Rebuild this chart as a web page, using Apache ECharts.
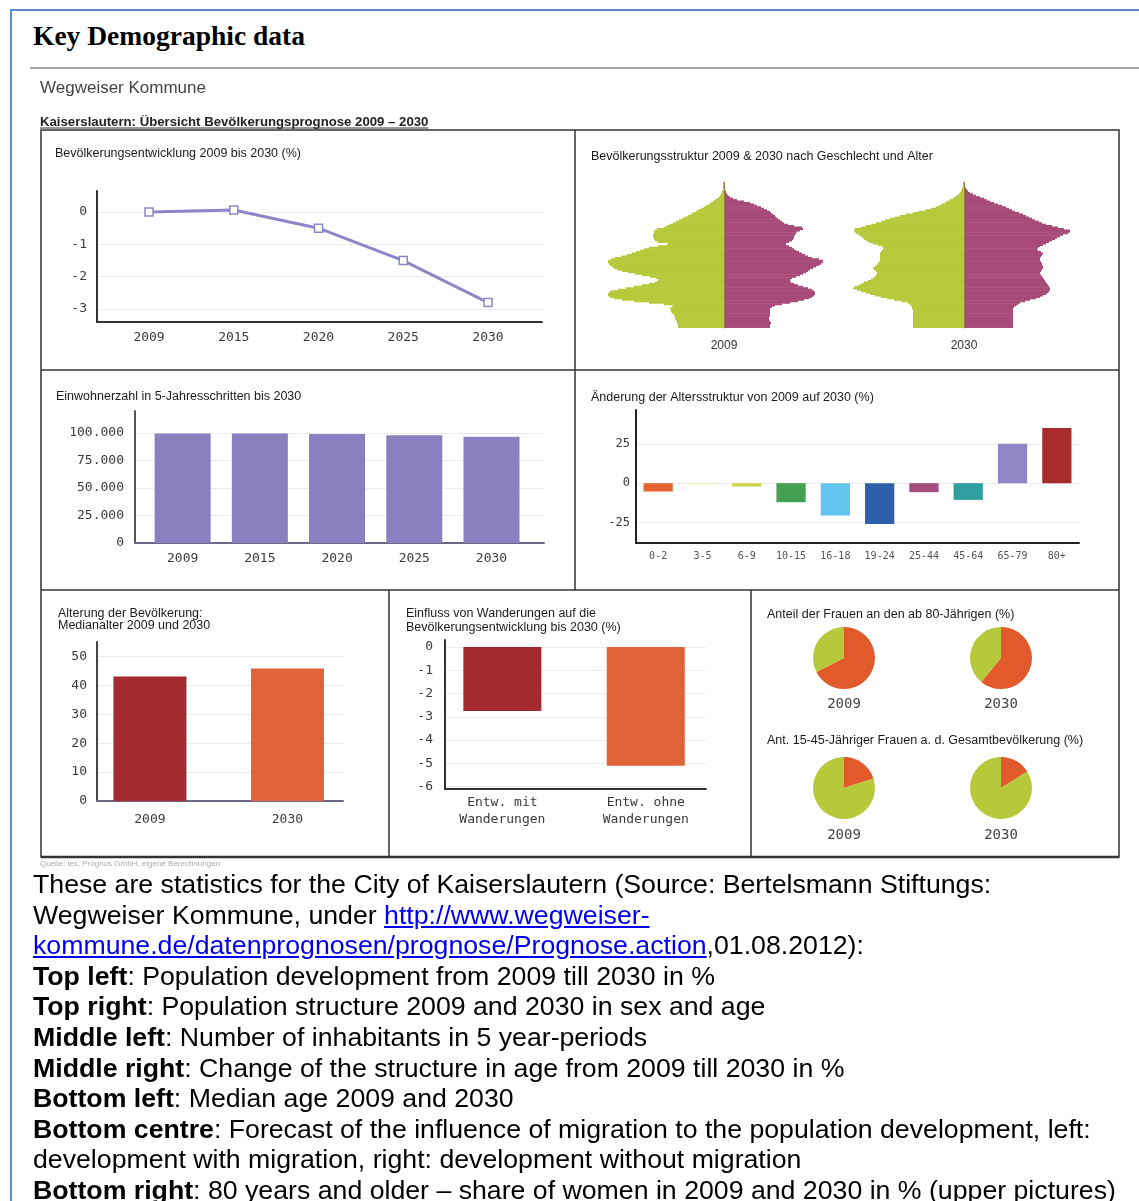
<!DOCTYPE html>
<html>
<head>
<meta charset="utf-8">
<script src="https://cdn.jsdelivr.net/npm/echarts@6/dist/echarts.min.js"></script>
<style>
  html, body { margin: 0; padding: 0; background: #fff; }
  body { width: 1139px; height: 1201px; position: relative; overflow: hidden; }
  #frame { position: absolute; left: 10px; top: 9px; width: 1200px; height: 1300px;
    border-top: 2px solid #5b8bd0; border-left: 2px solid #5b8bd0; }
  #head { position: absolute; left: 33px; top: 20px; font: bold 27.5px 'Liberation Serif', serif; color: #000; }
  #rule { position: absolute; left: 30px; top: 67px; width: 1109px; border-top: 2px solid #a6a6a6; }
  #chart { position: absolute; left: 0; top: 0; width: 1139px; height: 872px; }
  #text { position: absolute; left: 33px; top: 869px; font: 26.7px 'Liberation Sans', Arial, sans-serif;
    line-height: 30.6px; color: #000; white-space: nowrap; }
  #text a { color: #0000ee; text-decoration: underline; }
</style>
</head>
<body>
<div id="frame"></div>
<div id="head">Key Demographic data</div>
<div id="rule"></div>
<div id="chart"></div>
<div id="text">
These are statistics for the City of Kaiserslautern (Source: Bertelsmann Stiftungs:<br>
Wegweiser Kommune, under <a>http://www.wegweiser-<br>kommune.de/datenprognosen/prognose/Prognose.action</a>,01.08.2012):<br>
<b>Top left</b>: Population development from 2009 till 2030 in %<br>
<b>Top right</b>: Population structure 2009 and 2030 in sex and age<br>
<b>Middle left</b>: Number of inhabitants in 5 year-periods<br>
<b>Middle right</b>: Change of the structure in age from 2009 till 2030 in %<br>
<b>Bottom left</b>: Median age 2009 and 2030<br>
<b>Bottom centre</b>: Forecast of the influence of migration to the population development, left:<br>
development with migration, right: development without migration<br>
<b>Bottom right</b>: 80 years and older – share of women in 2009 and 2030 in % (upper pictures)
</div>
<script>
// Bevölkerungsentwicklung 2009 bis 2030 (%)
const jahre = ['2009', '2015', '2020', '2025', '2030']
const entwicklung = [0, 0.06, -0.5, -1.5, -2.8]
const entwicklungTicks = [0, -1, -2, -3]

// Einwohnerzahl in 5-Jahresschritten
const einwohner = [99500, 99550, 99000, 98000, 96700]
const einwohnerTicks = [0, 25000, 50000, 75000, 100000]

// Änderung der Altersstruktur (%)
const altersgruppen = ['0-2', '3-5', '6-9', '10-15', '16-18', '19-24', '25-44', '45-64', '65-79', '80+']
const aenderung = [-5.3, -0.5, -2.1, -12.1, -20.6, -25.9, -5.7, -10.6, 25, 35]
const aenderungTicks = [25, 0, -25]

// Medianalter
const medianJahre = ['2009', '2030']
const medianalter = [43.1, 45.8]
const medianTicks = [0, 10, 20, 30, 40, 50]

// Einfluss von Wanderungen (%)
const wanderKat = ['Entw. mit\nWanderungen', 'Entw. ohne\nWanderungen']
const wanderung = [-2.75, -5.1]
const wanderTicks = [0, -1, -2, -3, -4, -5, -6]

// Frauenanteile (%)
const pieJahre = ['2009', '2030']
const frauen80 = [67.5, 61]
const frauen1545 = [20, 16]

// Bevölkerungspyramiden, Alter 0..100
const alter = Array.from({ length: 101 }, (_, i) => String(i))
const maenner2009 = [
  46, 46, 46, 47, 47, 48, 49, 49, 50, 50,
  52, 53, 53, 54, 52, 51, 60, 75, 90, 102,
  110, 114, 116, 116, 115, 113, 106, 98, 90, 82,
  75, 69, 66, 65, 68, 74, 82, 89, 96, 102,
  107, 110, 112, 114, 115, 116, 116, 113, 109, 103,
  97, 92, 88, 84, 80, 75, 66, 57, 56, 66,
  69, 70, 70, 71, 71, 70, 70, 69, 67, 60,
  57, 54, 51, 48, 45, 42, 39, 36, 33, 31,
  28, 26, 23, 20, 18, 15, 13, 11, 9, 7,
  5, 4, 3, 2, 2, 1, 1, 1, 1, 1, 1,
]
const frauen2009 = [
  46, 46, 46, 47, 46, 45, 45, 45, 46, 46,
  46, 46, 46, 46, 48, 51, 58, 66, 74, 80,
  85, 88, 90, 91, 91, 90, 88, 84, 79, 74,
  70, 67, 66, 66, 68, 72, 76, 79, 82, 84,
  86, 89, 92, 95, 97, 99, 99, 95, 88, 84,
  81, 78, 75, 72, 70, 68, 65, 62, 62, 65,
  68, 69, 70, 70, 71, 72, 73, 76, 79, 78,
  70, 64, 60, 58, 56, 54, 52, 51, 49, 47,
  46, 43, 40, 37, 33, 30, 26, 20, 13, 9,
  6, 4, 3, 2, 2, 1, 1, 1, 1, 1, 1,
]
const maenner2030 = [
  51, 51, 51, 51, 51, 51, 51, 51, 51, 51,
  51, 51, 51, 52, 52, 53, 54, 56, 63, 70,
  77, 83, 89, 94, 98, 103, 107, 111, 109, 105,
  102, 100, 96, 93, 91, 89, 88, 87, 87, 88,
  90, 91, 89, 87, 86, 85, 84, 84, 84, 84,
  84, 84, 83, 82, 81, 81, 82, 86, 91, 95,
  98, 100, 101, 103, 105, 108, 109, 110, 109, 103,
  98, 93, 88, 83, 79, 74, 69, 64, 58, 51,
  45, 39, 33, 28, 25, 22, 19, 17, 14, 11,
  9, 7, 5, 4, 3, 2, 2, 1, 1, 1, 1,
]
const frauen2030 = [
  49, 49, 49, 49, 49, 49, 49, 49, 49, 49,
  49, 49, 49, 49, 50, 52, 54, 56, 61, 66,
  72, 76, 79, 82, 84, 85, 86, 86, 85, 84,
  83, 82, 81, 80, 79, 78, 77, 76, 76, 77,
  78, 79, 79, 78, 78, 77, 76, 76, 76, 77,
  78, 79, 77, 74, 73, 74, 76, 79, 82, 85,
  88, 91, 93, 96, 99, 104, 106, 106, 100, 94,
  88, 82, 78, 75, 71, 68, 65, 62, 59, 55,
  51, 48, 45, 42, 38, 34, 30, 26, 23, 20,
  16, 12, 9, 6, 4, 3, 2, 1, 1, 1, 1,
]

const MONO = 'DejaVu Sans Mono'
const SANS = 'Liberation Sans'
const GREEN = '#b6c93a'
const MAGENTA = '#a84a78'
const ORANGE = '#e2592b'
const DARKRED = '#a32b2e'
const gruppenFarben = ['#e4632d', '#f1e88e', '#c8d444', '#46a052', '#63c5ef',
  '#2d5faa', '#a44d7c', '#2e9ea0', '#9088c6', '#a92c2c']
const medianFarben = [DARKRED, '#e0643a']

const fmtDe = (v) => String(v).replace(/\B(?=(\d{3})+(?!\d))/g, '.')

// category-like value axis, so the bands can sit where the original put them
function posAxis(gi, cats, padL, padR, fs, margin, lineColor) {
  return {
    type: 'value', gridIndex: gi, min: -padL, max: cats.length - 1 + padR,
    axisLine: { show: true, onZero: false, lineStyle: { color: lineColor, width: 2 } },
    axisTick: { show: false },
    splitLine: { show: false },
    axisLabel: {
      customValues: cats.map((c, i) => i),
      formatter: (v) => cats[Math.round(v)],
      fontFamily: MONO, fontSize: fs, color: '#3a3a3a', margin: margin, lineHeight: 17,
    },
  }
}

function valAxis(gi, min, max, ticks, fs, margin, fmt, lineColor) {
  return {
    type: 'value', gridIndex: gi, min: min, max: max,
    axisLine: { show: true, onZero: false, lineStyle: { color: lineColor, width: 2 } },
    axisTick: { show: false, customValues: ticks },
    splitLine: { show: true, lineStyle: { color: '#ececec', width: 1 } },
    axisLabel: {
      customValues: ticks, formatter: fmt,
      fontFamily: MONO, fontSize: fs, color: '#3a3a3a', margin: margin,
    },
  }
}

function pyrX(gi, name) {
  return {
    type: 'value', gridIndex: gi, min: -125, max: 125,
    axisLine: { show: false }, axisTick: { show: false },
    axisLabel: { show: false }, splitLine: { show: false },
    name: name, nameLocation: 'middle', nameGap: 12,
    nameTextStyle: { fontFamily: SANS, fontSize: 12, color: '#333' },
  }
}

function pyrY(gi) {
  return {
    type: 'category', gridIndex: gi, data: alter, z: 5,
    axisLine: { show: true, onZero: true, lineStyle: { color: '#9a7a45', width: 1 } },
    axisTick: { show: false }, axisLabel: { show: false }, splitLine: { show: false },
  }
}

function pyrBars(gi, m, f) {
  return [
    { type: 'bar', xAxisIndex: gi, yAxisIndex: gi, data: m.map((v) => -v),
      barWidth: 2, barGap: '-100%', itemStyle: { color: GREEN } },
    { type: 'bar', xAxisIndex: gi, yAxisIndex: gi, data: f,
      barWidth: 2, barGap: '-100%', itemStyle: { color: MAGENTA } },
  ]
}

function pie(cx, cy, share) {
  return {
    type: 'pie', center: [cx, cy], radius: 31, startAngle: 90, clockwise: true,
    label: { show: false }, labelLine: { show: false }, silent: true,
    itemStyle: { borderWidth: 0 },
    data: [
      { value: share, itemStyle: { color: ORANGE } },
      { value: 100 - share, itemStyle: { color: GREEN } },
    ],
  }
}

function title(text, left, top, lh) {
  return {
    text: text, left: left, top: top, padding: 0,
    textStyle: { fontFamily: SANS, fontSize: 12.5, fontWeight: 'normal', color: '#1a1a1a', lineHeight: lh || 14 },
  }
}

function line(x1, y1, x2, y2, w) {
  return { type: 'line', shape: { x1, y1, x2, y2 }, style: { stroke: '#333', lineWidth: w || 1.5 }, silent: true }
}

function label(text, x, y) {
  return { type: 'text', x: x, y: y, silent: true,
    style: { text: text, font: '14px "DejaVu Sans Mono"', fill: '#444', align: 'center', verticalAlign: 'middle' } }
}

const subTitle = 'Kaiserslautern: Übersicht Bevölkerungsprognose 2009 – 2030'
const subFont = 'bold 13.2px "Liberation Sans"'
const ctx = document.createElement('canvas').getContext('2d')
ctx.font = subFont
const subW = ctx.measureText(subTitle).width

const chart = echarts.init(document.getElementById('chart'))
chart.setOption({
  animation: false,
  title: [
    title('Bevölkerungsentwicklung 2009 bis 2030 (%)', 55, 147),
    title('Bevölkerungsstruktur 2009 & 2030 nach Geschlecht und Alter', 591, 150),
    title('Einwohnerzahl in 5-Jahresschritten bis 2030', 56, 390),
    title('Änderung der Altersstruktur von 2009 auf 2030 (%)', 591, 391),
    title('Alterung der Bevölkerung:\nMedianalter 2009 und 2030', 58, 608, 12),
    title('Einfluss von Wanderungen auf die\nBevölkerungsentwicklung bis 2030 (%)', 406, 607, 13.5),
    title('Anteil der Frauen an den ab 80-Jährigen (%)', 767, 608),
    title('Ant. 15-45-Jähriger Frauen a. d. Gesamtbevölkerung (%)', 767, 734),
  ],
  grid: [
    { left: 97, top: 191, width: 445, height: 131 },
    { left: 599, top: 182, width: 250, height: 146 },
    { left: 839, top: 182, width: 250, height: 146 },
    { left: 135, top: 411, width: 409, height: 132 },
    { left: 636, top: 410, width: 443, height: 133 },
    { left: 97, top: 642, width: 246, height: 159 },
    { left: 445, top: 640, width: 261, height: 149 },
  ],
  xAxis: [
    posAxis(0, jahre, 0.614, 0.637, 13, 7, '#333'),
    pyrX(1, '2009'),
    pyrX(2, '2030'),
    posAxis(3, jahre, 0.617, 0.68, 13, 7, '#6a6a86'),
    {
      type: 'category', gridIndex: 4, data: altersgruppen,
      axisLine: { onZero: false, lineStyle: { color: '#222', width: 2 } },
      axisTick: { show: false },
      axisLabel: { fontFamily: MONO, fontSize: 10, color: '#555', margin: 8, interval: 0 },
    },
    posAxis(5, medianJahre, 0.385, 0.404, 13, 10, '#6a6a86'),
    posAxis(6, wanderKat, 0.40, 0.42, 13, 5, '#333'),
  ],
  yAxis: [
    valAxis(0, -3.4, 0.65, entwicklungTicks, 13, 10, (v) => String(v), '#333'),
    pyrY(1),
    pyrY(2),
    valAxis(3, 0, 120000, einwohnerTicks, 13, 11, fmtDe, '#555'),
    valAxis(4, -38, 46.5, aenderungTicks, 12, 6, (v) => String(v), '#222'),
    valAxis(5, 0, 55, medianTicks, 13, 10, (v) => String(v), '#444'),
    valAxis(6, -6.1, 0.3, wanderTicks, 13, 12, (v) => String(v), '#333'),
  ],
  series: [
    {
      type: 'line', xAxisIndex: 0, yAxisIndex: 0,
      data: entwicklung.map((v, i) => [i, v]),
      symbol: 'rect', symbolSize: 8,
      lineStyle: { color: '#8c87c8', width: 3 },
      itemStyle: { color: '#fff', borderColor: '#8c87c8', borderWidth: 1.5 },
    },
    ...pyrBars(1, maenner2009, frauen2009),
    ...pyrBars(2, maenner2030, frauen2030),
    {
      type: 'bar', xAxisIndex: 3, yAxisIndex: 3, barWidth: 56,
      data: einwohner.map((v, i) => [i, v]),
      itemStyle: { color: '#8a80c0' },
    },
    {
      type: 'bar', xAxisIndex: 4, yAxisIndex: 4, barWidth: '66%',
      data: aenderung.map((v, i) => ({ value: v, itemStyle: { color: gruppenFarben[i] } })),
    },
    {
      type: 'bar', xAxisIndex: 5, yAxisIndex: 5, barWidth: 73,
      data: medianalter.map((v, i) => ({ value: [i, v], itemStyle: { color: medianFarben[i] } })),
    },
    {
      type: 'bar', xAxisIndex: 6, yAxisIndex: 6, barWidth: 78,
      data: wanderung.map((v, i) => ({ value: [i, v], itemStyle: { color: medianFarben[i] } })),
    },
    pie(844, 658, frauen80[0]),
    pie(1001, 658, frauen80[1]),
    pie(844, 788, frauen1545[0]),
    pie(1001, 788, frauen1545[1]),
  ],
  graphic: [
    { type: 'text', x: 40, y: 88, silent: true,
      style: { text: 'Wegweiser Kommune', font: '17px "Liberation Sans"', fill: '#444', verticalAlign: 'middle' } },
    { type: 'text', x: 40, y: 122, silent: true,
      style: { text: subTitle, font: subFont, fill: '#222', verticalAlign: 'middle' } },
    line(40, 128, 40 + subW, 128, 1),
    { type: 'rect', shape: { x: 41, y: 130, width: 1078, height: 727 }, silent: true,
      style: { fill: 'none', stroke: '#333', lineWidth: 1.5 } },
    line(41, 370, 1119, 370),
    line(41, 590, 1119, 590),
    line(575, 130, 575, 590),
    line(389, 590, 389, 857),
    line(751, 590, 751, 857),
    line(41, 857, 1119, 857, 2.5),
    label(pieJahre[0], 844, 704),
    label(pieJahre[1], 1001, 704),
    label(pieJahre[0], 844, 835),
    label(pieJahre[1], 1001, 835),
    { type: 'text', x: 40, y: 864, silent: true,
      style: { text: 'Quelle: ies, Prognos GmbH, eigene Berechnungen', font: '8px "Liberation Sans"', fill: '#aaa', verticalAlign: 'middle' } },
  ],
})
</script>
</body>
</html>
